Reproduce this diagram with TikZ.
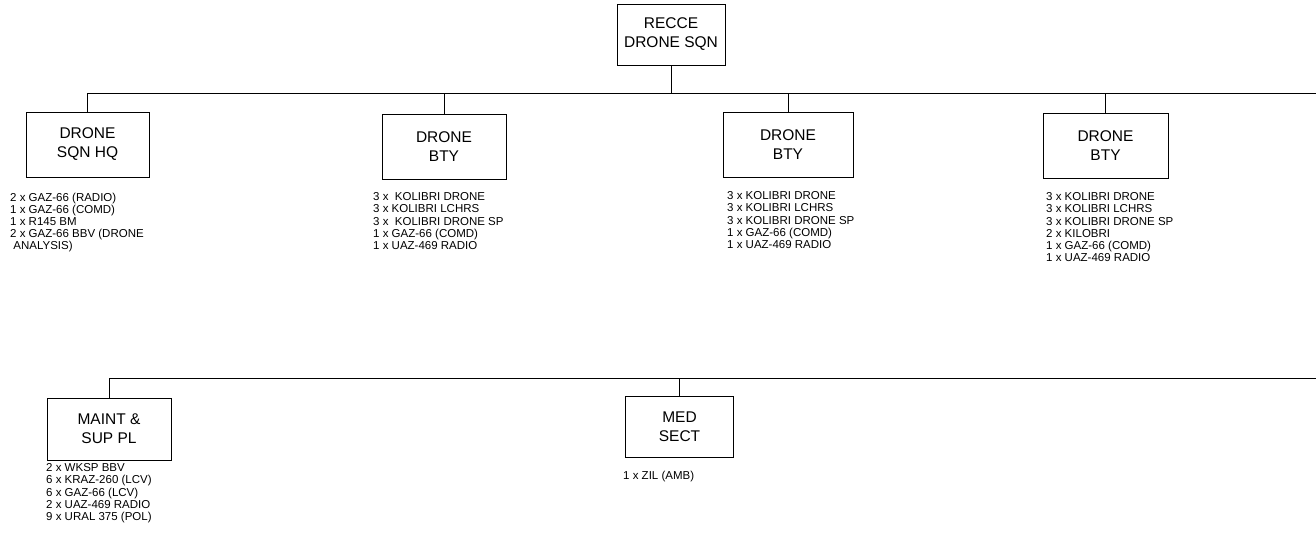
\documentclass[tikz,border=0pt]{standalone}
\usepackage{fontspec}
\setmainfont{Liberation Sans}
\usetikzlibrary{positioning}
\tikzset{
  unitbox/.style={draw, line width=0.9pt, align=center, inner sep=2pt,
    minimum width=124pt, minimum height=65pt, font=\fontsize{15.5}{19}\selectfont},
  hqbox/.style={unitbox, minimum width=108pt, minimum height=61pt},
  kitlist/.style={anchor=north west, align=left, inner sep=0pt,
    font=\fontsize{11.5}{12.2}\selectfont},
  link/.style={line width=0.9pt}
}
\begin{document}
\begin{tikzpicture}[x=1pt, y=-1pt]
  \useasboundingbox (0,0) rectangle (1316,552);
  % command and first row
  \node[hqbox] (sqn) at (671,34.5) {RECCE\\DRONE SQN};
  \node[unitbox, minimum width=123pt] (hq) at (87.5,144.5) {DRONE\\SQN HQ};
  \node[unitbox] (bty1) at (444,147) {DRONE\\BTY};
  \node[unitbox, minimum width=130pt] (bty2) at (788,145) {DRONE\\BTY};
  \node[unitbox, minimum width=125pt] (bty3) at (1105.5,146) {DRONE\\BTY};
  % second row
  \node[unitbox, minimum height=62pt] (maint) at (109,429) {MAINT \&\\SUP PL};
  \node[hqbox] (med) at (679.5,426.5) {MED\\SECT};
  % equipment lists
  \node[kitlist] (hqkit) at (10,192.5) {2 x GAZ-66 (RADIO)\\1 x GAZ-66 (COMD)\\1 x R145 BM\\2 x GAZ-66 BBV (DRONE\\\hspace*{0.28em}ANALYSIS)};
  \node[kitlist] (bty1kit) at (373,192.5) {3 x\ \ KOLIBRI DRONE\\3 x KOLIBRI LCHRS\\3 x\ \ KOLIBRI DRONE SP\\1 x GAZ-66 (COMD)\\1 x UAZ-469 RADIO};
  \node[kitlist] (bty2kit) at (727,191.5) {3 x KOLIBRI DRONE\\3 x KOLIBRI LCHRS\\3 x KOLIBRI DRONE SP\\1 x GAZ-66 (COMD)\\1 x UAZ-469 RADIO};
  \node[kitlist] (bty3kit) at (1046,192.5) {3 x KOLIBRI DRONE\\3 x KOLIBRI LCHRS\\3 x KOLIBRI DRONE SP\\2 x KILOBRI\\1 x GAZ-66 (COMD)\\1 x UAZ-469 RADIO};
  \node[kitlist] (maintkit) at (46,463.5) {2 x WKSP BBV\\6 x KRAZ-260 (LCV)\\6 x GAZ-66 (LCV)\\2 x UAZ-469 RADIO\\9 x URAL 375 (POL)};
  \node[kitlist] (medkit) at (623,470.5) {1 x ZIL (AMB)};
  % buses
  \coordinate (topbus) at (1316,93);
  \coordinate (lowbus) at (1316,378);
  \draw[link] (sqn) -- (sqn |- topbus);
  \draw[link] (hq.north) |- (topbus);
  \foreach \b in {bty1,bty2,bty3}
    \draw[link] (\b.north) -- (\b.north |- topbus);
  \draw[link] (maint.north) |- (lowbus);
  \draw[link] (med.north) -- (med.north |- lowbus);
\end{tikzpicture}
\end{document}
